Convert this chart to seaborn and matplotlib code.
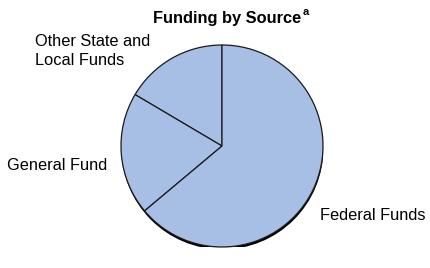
import matplotlib
matplotlib.use("Agg")
import matplotlib.pyplot as plt
import seaborn as sns
from matplotlib.patches import Circle

categories = ["Other State and\nLocal Funds", "General Fund", "Federal Funds"]
shares = [16.5, 19.6, 63.9]
title = "Funding by Source"

sns.set_theme(style="white")
plt.rcParams['font.family'] = ['Liberation Sans', 'DejaVu Sans']

W, H = 431, 268
fig = plt.figure(figsize=(W / 100, H / 100), dpi=100)
fig.patch.set_facecolor("white")

cx, cy, r = 222, 146, 101
ax = fig.add_axes([(cx - r) / W, (H - cy - r) / H, 2 * r / W, 2 * r / H])

fill = "#a7bfe4"
wedges, _ = ax.pie(shares, startangle=90, counterclock=True, radius=1.0,
                   colors=[fill] * len(shares),
                   wedgeprops=dict(edgecolor="#1a1a1a", linewidth=0.9))
for w in wedges:
    w.set_zorder(1)
# shadow edge (heavier toward the bottom)
ax.add_patch(Circle((0.004, -0.024), 1.0, facecolor="black", edgecolor="none", zorder=0))
ax.set_xlim(-1, 1)
ax.set_ylim(-1, 1)
ax.set_aspect("equal")
ax.axis("off")

t = fig.text(227 / W, 1 - 18 / H, title, ha="center", va="center",
             fontsize=11.8, fontweight="bold", color="black")
ax.annotate("a", xy=(1.0, 0.9), xycoords=t, xytext=(1, 0), textcoords="offset points",
            ha="left", va="center", fontsize=8, fontweight="bold", color="black",
            annotation_clip=False)

fig.text(35 / W, 1 - 51 / H, categories[0], ha="left", va="center",
         fontsize=11.8, color="black", linespacing=1.3)
fig.text(7 / W, 1 - 166 / H, categories[1], ha="left", va="center",
         fontsize=11.8, color="black")
fig.text(320 / W, 1 - 216 / H, categories[2], ha="left", va="center",
         fontsize=11.8, color="black")

fig.savefig("out.png", dpi=100, facecolor="white")
